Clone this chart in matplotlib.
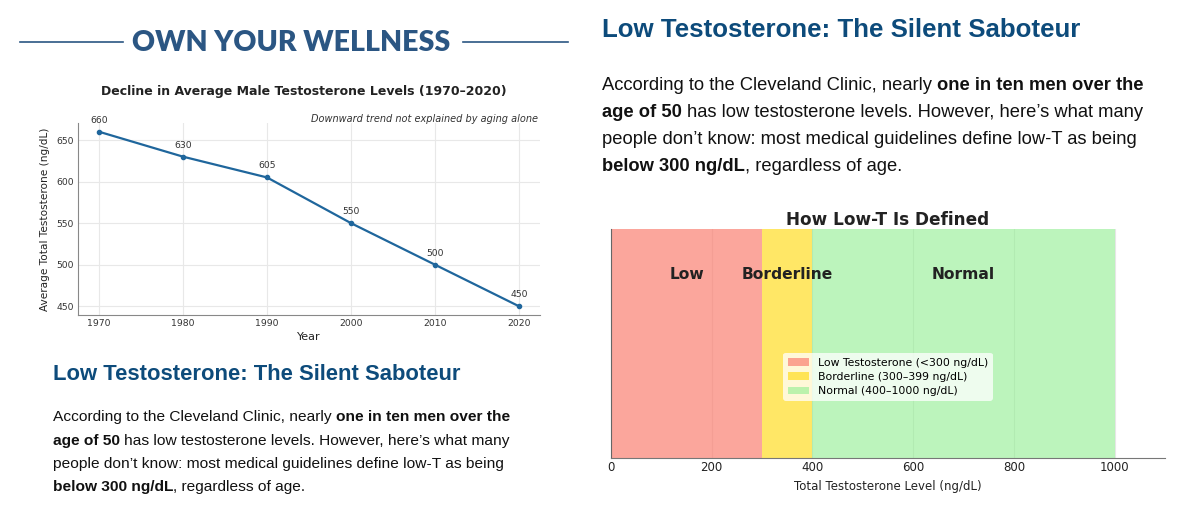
import matplotlib
matplotlib.use("Agg")
import matplotlib.pyplot as plt
from matplotlib.lines import Line2D

# ---- data ----
years = [1970, 1980, 1990, 2000, 2010, 2020]
levels = [660, 630, 605, 550, 500, 450]

zone_names = ["Low", "Borderline", "Normal"]
zone_start = [0, 300, 400]
zone_end = [300, 400, 1000]
zone_labels = ["Low Testosterone (<300 ng/dL)",
               "Borderline (300\u2013399 ng/dL)",
               "Normal (400\u20131000 ng/dL)"]
zone_colors = ["salmon", "gold", "lightgreen"]
zone_alpha = [0.7, 0.6, 0.6]
zone_text_x = [150, 350, 700]

heading = "Low Testosterone: The Silent Saboteur"
body = [
    [("According to the Cleveland Clinic, nearly ", False), ("one in ten men over the", True)],
    [("age of 50", True), (" has low testosterone levels. However, here\u2019s what many", False)],
    [("people don\u2019t know: most medical guidelines define low-T as being", False)],
    [("below 300 ng/dL", True), (", regardless of age.", False)],
]

W, H = 1200, 516
fig = plt.figure(figsize=(W / 100, H / 100), dpi=100)
fig.patch.set_facecolor("white")
r = fig.canvas.get_renderer()

def fx(px):
    return px / W

def fy(py):
    return 1 - py / H

BLUE_HEAD = "#2b5683"
BLUE_TXT = "#0d4b7b"

# ---- header ----
fig.add_artist(Line2D([fx(20), fx(123)], [fy(42), fy(42)], color=BLUE_HEAD, lw=1.2))
fig.add_artist(Line2D([fx(463), fx(568)], [fy(42), fy(42)], color=BLUE_HEAD, lw=1.2))
fig.text(fx(291.5), fy(43), "OWN YOUR WELLNESS", ha="center", va="center",
         fontsize=20.5, fontweight="heavy", family=["Lato", "DejaVu Sans"], color=BLUE_HEAD)

# ---- rich paragraph helper ----
def space_w(size, bold):
    kw = dict(fontsize=size, fontweight="bold" if bold else "normal", family="Liberation Sans")
    a = fig.text(0, 0, "x x", **kw)
    b = fig.text(0, 0, "xx", **kw)
    w = a.get_window_extent(r).width - b.get_window_extent(r).width
    a.remove()
    b.remove()
    return w

def paragraph(x0, y0, lines, size, gap):
    for i, parts in enumerate(lines):
        x = x0
        y = y0 + i * gap
        for txt, bold in parts:
            sw = space_w(size, bold)
            if txt.startswith(" "):
                x += sw
            t = fig.text(fx(x), fy(y), txt.strip(), fontsize=size,
                         fontweight="bold" if bold else "normal",
                         family="Liberation Sans", color="#111111", va="baseline")
            x += t.get_window_extent(r).width
            if txt.endswith(" "):
                x += sw

# left text block
fig.text(fx(53), fy(380), heading, fontsize=15.8, fontweight="bold",
         family="Liberation Sans", color=BLUE_TXT, va="baseline")
paragraph(53, 421, body, 11.15, 23.5)

# right text block
fig.text(fx(602), fy(37), heading, fontsize=18.6, fontweight="bold",
         family="Liberation Sans", color=BLUE_TXT, va="baseline")
paragraph(602, 90, body, 13.2, 27)

# ---- left chart: line ----
ax1 = fig.add_axes([fx(78), fy(315), fx(540 - 78), (315 - 123) / H])
ax1.plot(years, levels, marker="o", markersize=3, lw=1.6, color="#1f669c", zorder=3)
for xv, yv in zip(years, levels):
    ax1.annotate(str(yv), (xv, yv), textcoords="offset points", xytext=(0, 5),
                 ha="center", va="bottom", fontsize=6.7, color="#333333")
ax1.set_xticks(years)
ax1.set_yticks([450, 500, 550, 600, 650])
ax1.tick_params(length=0, labelsize=6.7, labelcolor="#333333", pad=3)
ax1.grid(True, color="#e8e8e8", lw=0.8)
ax1.set_axisbelow(True)
for s in ["top", "right"]:
    ax1.spines[s].set_visible(False)
for s in ["left", "bottom"]:
    ax1.spines[s].set_color("#888888")
ax1.set_ylabel("Average Total Testosterone (ng/dL)", fontsize=7.6, color="#222222")
ax1.yaxis.set_label_coords(-0.0606, 0.5)
ax1.set_xlabel("Year", fontsize=8, color="#222222")
ax1.xaxis.set_label_coords(0.5, -0.088)
fig.text(fx(304), fy(91), "Decline in Average Male Testosterone Levels (1970\u20132020)",
         ha="center", va="center", fontsize=9, fontweight="bold", color="#222222")
fig.text(fx(538), fy(119), "Downward trend not explained by aging alone",
         ha="right", va="center", fontsize=7, style="italic", color="#333333")

# ---- right chart: zones ----
ax2 = fig.add_axes([fx(611), fy(458), fx(1165 - 611), (458 - 229) / H])
for a, b, c, al, lab in zip(zone_start, zone_end, zone_colors, zone_alpha, zone_labels):
    ax2.axvspan(a, b, color=c, alpha=al, label=lab, lw=0)
for name, xv in zip(zone_names, zone_text_x):
    ax2.text(xv, 0.80, name, ha="center", va="center", fontsize=11.2,
             fontweight="bold", color="#222222")
ax2.set_xlim(0, 1100)
ax2.set_ylim(0, 1)
ax2.set_yticks([])
ax2.set_xticks([0, 200, 400, 600, 800, 1000])
ax2.tick_params(length=0, labelsize=8.5, labelcolor="#222222", pad=2)
ax2.grid(axis="x", color="#e6e6e6", lw=0.8)
ax2.set_axisbelow(True)
for s in ["top", "right"]:
    ax2.spines[s].set_visible(False)
ax2.spines["left"].set_color("#666666")
ax2.spines["bottom"].set_color("#777777")
ax2.set_xlabel("Total Testosterone Level (ng/dL)", fontsize=8.5, color="#222222")
ax2.xaxis.set_label_coords(0.5, -0.096)
ax2.legend(loc="center", bbox_to_anchor=(0.5, 0.354), fontsize=7.8, labelspacing=0.4,
           frameon=True, framealpha=0.75, edgecolor="none", facecolor="white")
fig.text(fx(888), fy(220), "How Low-T Is Defined", ha="center", va="center",
         fontsize=12.2, fontweight="bold", color="#222222")

fig.savefig("out.png", dpi=100)
